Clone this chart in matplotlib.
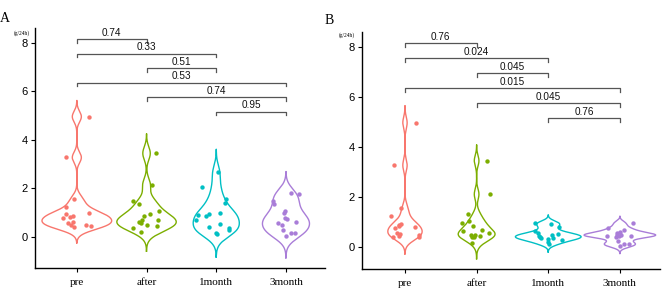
import numpy as np
import matplotlib
matplotlib.use("Agg")
import matplotlib.pyplot as plt

categories = ["pre", "after", "1month", "3month"]
colors = ["#F8766D", "#7CAE00", "#00BFC4", "#A97DD8"]

# Panel A values (g/24h) and jitter offsets
a_pre = [4.95, 3.27, 1.55, 1.25, 0.95, 0.79, 0.84, 0.86, 0.97, 0.59, 0.63, 0.49, 0.42, 0.49, 0.45]
a_pre_j = [0.17, -0.15, -0.04, -0.15, -0.16, -0.2, -0.1, -0.06, 0.18, -0.12, -0.06, -0.09, -0.04, 0.13, 0.2]
a_after = [3.44, 2.14, 1.49, 1.34, 0.86, 0.95, 1.07, 0.70, 0.63, 0.56, 0.36, 0.22, 0.47, 0.45, 0.70]
a_after_j = [0.14, 0.08, -0.2, -0.11, -0.04, 0.05, 0.18, -0.06, -0.11, -0.08, -0.19, -0.08, 0.0, 0.15, 0.16]
a_1m = [2.66, 2.04, 1.55, 1.38, 0.90, 0.70, 0.95, 1.00, 0.40, 0.52, 0.86, 0.18, 0.12, 0.36, 0.29]
a_1m_j = [0.02, -0.2, 0.14, 0.12, -0.26, -0.29, -0.11, 0.06, -0.1, 0.05, -0.14, 0.0, 0.01, 0.18, 0.19]
a_3m = [1.79, 1.77, 1.49, 1.36, 1.08, 0.97, 0.77, 0.73, 0.63, 0.56, 0.48, 0.29, 0.18, 0.18, 0.04]
a_3m_j = [0.07, 0.18, -0.18, -0.17, -0.01, -0.03, -0.01, 0.02, 0.15, -0.11, -0.06, -0.04, 0.07, 0.13, 0.0]

# Panel B
b_pre = [4.97, 3.27, 1.55, 1.24, 0.93, 0.88, 0.77, 0.79, 0.57, 0.45, 0.41, 0.48, 0.41, 0.52, 0.84]
b_pre_j = [0.16, -0.15, -0.05, -0.19, -0.06, -0.08, -0.14, 0.14, -0.11, -0.08, -0.17, 0.19, 0.2, -0.07, -0.09]
b_after = [3.45, 2.11, 1.31, 1.05, 0.95, 0.84, 0.65, 0.68, 0.55, 0.48, 0.41, 0.44, 0.17, 0.39, 0.47]
b_after_j = [0.15, 0.18, -0.12, -0.11, -0.2, -0.05, -0.19, 0.08, 0.17, -0.08, -0.06, 0.05, -0.07, -0.03, -0.02]
b_1m = [0.98, 0.92, 0.80, 0.65, 0.45, 0.37, 0.48, 0.35, 0.51, 0.28, 0.20, 0.11, 0.32, 0.42, 0.55]
b_1m_j = [-0.19, 0.04, 0.15, -0.19, -0.13, -0.1, 0.05, 0.07, 0.13, 0.19, 0.0, 0.01, 0.0, -0.12, -0.15]
b_3m = [0.95, 0.77, 0.68, 0.60, 0.55, 0.45, 0.45, 0.50, 0.44, 0.26, 0.03, 0.12, 0.12, 0.48, 0.40]
b_3m_j = [0.19, -0.17, 0.06, 0.0, -0.04, -0.18, -0.01, 0.02, 0.15, -0.03, 0.0, 0.06, 0.13, -0.04, -0.06]

pairs = [(1, 2), (1, 3), (2, 3), (1, 4), (2, 4), (3, 4)]
a_pvals = ["0.74", "0.33", "0.51", "0.53", "0.74", "0.95"]
b_pvals = ["0.76", "0.024", "0.045", "0.015", "0.045", "0.76"]


def bw_nrd0(x):
    x = np.asarray(x)
    sd = np.std(x, ddof=1)
    q75, q25 = np.percentile(x, [75, 25])
    lo = min(sd, (q75 - q25) / 1.34)
    if lo <= 0:
        lo = sd
    return 0.9 * lo * len(x) ** (-0.2)


def kde(x):
    x = np.asarray(x)
    bw = bw_nrd0(x)
    grid = np.linspace(x.min() - 3 * bw, x.max() + 3 * bw, 512)
    d = np.exp(-0.5 * ((grid[:, None] - x[None, :]) / bw) ** 2).sum(1)
    d /= (len(x) * bw * np.sqrt(2 * np.pi))
    return grid, d


def panel(ax, groups, jitters, pvals, ylim):
    dens = [kde(g) for g in groups]
    dmax = max(d.max() for _, d in dens)
    for i, ((grid, d), g, j) in enumerate(zip(dens, groups, jitters)):
        xc = i + 1
        w = 0.5 * d / dmax
        xs = np.concatenate([xc - w, (xc + w)[::-1], [xc - w[0]]])
        ys = np.concatenate([grid, grid[::-1], [grid[0]]])
        ax.plot(xs, ys, color=colors[i], lw=1.0, solid_joinstyle="round")
        ax.scatter(xc + np.asarray(j), g, s=10, color=colors[i], linewidths=0, zorder=3)
    top = 8.15
    step = 0.6
    drop = 0.15
    for k, ((p1, p2), lab) in enumerate(zip(pairs, pvals)):
        y = top - step * k
        ax.plot([p1, p1, p2, p2], [y - drop, y, y, y - drop], color="#555555", lw=0.9)
        ax.annotate(lab, xy=((p1 + p2) / 2, y), xytext=(0, 1), textcoords="offset points",
                    ha="center", va="bottom", fontsize=7.2, family="Liberation Sans", color="#111111")
    ax.set_xlim(0.4, 4.56)
    ax.set_ylim(*ylim)
    ax.set_xticks([1, 2, 3, 4])
    ax.set_xticklabels(categories, family="Liberation Serif", fontsize=8)
    ax.set_yticks([0, 2, 4, 6, 8])
    ax.set_yticklabels(["0", "2", "4", "6", "8"], family="Liberation Sans", fontsize=8)
    for s in ["top", "right"]:
        ax.spines[s].set_visible(False)
    for s in ["left", "bottom"]:
        ax.spines[s].set_linewidth(1.0)
    ax.tick_params(length=3, width=0.8, pad=2, colors="black")
    ax.tick_params(axis="x", pad=4)


fig = plt.figure(figsize=(6.69, 2.95), dpi=100)
axA = fig.add_axes([35 / 669, 1 - 268 / 295, 290 / 669, 240 / 295])
axB = fig.add_axes([362 / 669, 1 - 269 / 295, 298 / 669, 237 / 295])

panel(axA, [a_pre, a_after, a_1m, a_3m], [a_pre_j, a_after_j, a_1m_j, a_3m_j], a_pvals, (-1.28, 8.6))
panel(axB, [b_pre, b_after, b_1m, b_3m], [b_pre_j, b_after_j, b_1m_j, b_3m_j], b_pvals, (-0.88, 8.6))

fig.text(5 / 669, 1 - 18 / 295, "A", family="Liberation Serif", fontsize=10, ha="center", va="center")
fig.text(329 / 669, 1 - 21 / 295, "B", family="Liberation Serif", fontsize=10, ha="center", va="center")
fig.text(22 / 669, 1 - 33 / 295, "(g/24h)", family="Liberation Serif", fontsize=4, ha="center", va="center")
fig.text(347 / 669, 1 - 35 / 295, "(g/24h)", family="Liberation Serif", fontsize=4, ha="center", va="center")

fig.savefig("out.png", dpi=100)
